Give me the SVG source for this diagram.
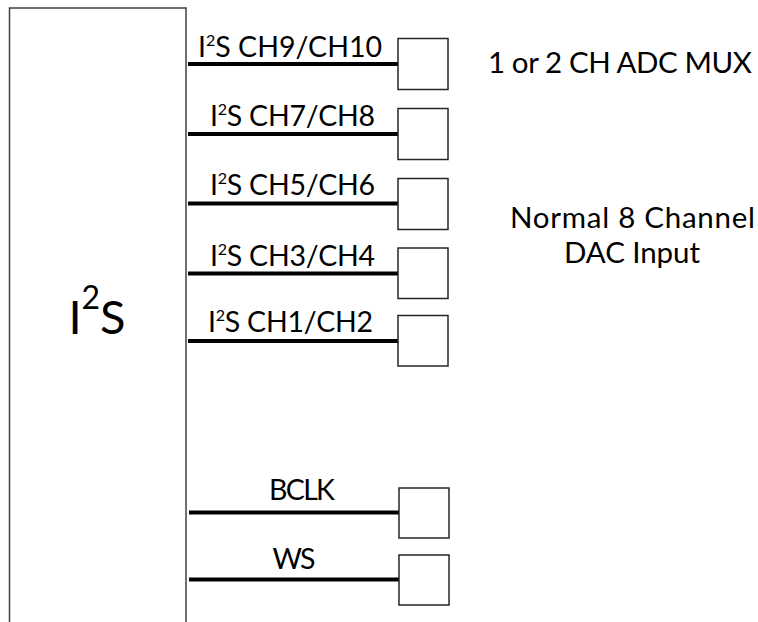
<svg xmlns="http://www.w3.org/2000/svg" width="758" height="622" viewBox="0 0 758 622">
  <style>
    .t { font-family: Lato, "Liberation Sans", sans-serif; fill: #000; }
    .lbl { font-size: 28.5px; text-anchor: middle; }
    .sup { font-size: 16px; }
    .side { font-size: 29.5px; text-anchor: middle; }
    .box { fill: #fff; stroke: #262626; stroke-width: 1.5; }
    .wire { stroke: #000; stroke-width: 4; fill: none; }
  </style>
  <rect width="758" height="622" fill="#fff"/>
  <g id="i2s-block">
    <rect x="9.5" y="8" width="176.5" height="640" fill="#fff" stroke="#404040" stroke-width="1.5"/>
    <text class="t" x="97" y="333.5" font-size="47" text-anchor="middle">I<tspan font-size="32" dy="-25">2</tspan><tspan dy="25">S</tspan></text>
  </g>
  <g id="connectors">
    <line class="wire" x1="188" y1="64" x2="398" y2="64"/>
    <line class="wire" x1="188" y1="134" x2="398" y2="134"/>
    <line class="wire" x1="188" y1="203.5" x2="398" y2="203.5"/>
    <line class="wire" x1="188" y1="273.5" x2="398" y2="273.5"/>
    <line class="wire" x1="188" y1="341" x2="399" y2="341"/>
    <line class="wire" x1="189" y1="512.5" x2="399" y2="512.5"/>
    <line class="wire" x1="189" y1="579.5" x2="399" y2="579.5"/>
  </g>
  <g id="labels">
    <text class="t lbl" x="290" y="56.5" textLength="184" lengthAdjust="spacing">I<tspan class="sup" dy="-11">2</tspan><tspan dy="11">S CH9/CH10</tspan></text>
    <text class="t lbl" x="292.5" y="125.5" textLength="165" lengthAdjust="spacing">I<tspan class="sup" dy="-11">2</tspan><tspan dy="11">S CH7/CH8</tspan></text>
    <text class="t lbl" x="292.5" y="194.5" textLength="165" lengthAdjust="spacing">I<tspan class="sup" dy="-11">2</tspan><tspan dy="11">S CH5/CH6</tspan></text>
    <text class="t lbl" x="292.5" y="266" textLength="165" lengthAdjust="spacing">I<tspan class="sup" dy="-11">2</tspan><tspan dy="11">S CH3/CH4</tspan></text>
    <text class="t lbl" x="290.5" y="332" textLength="165" lengthAdjust="spacing">I<tspan class="sup" dy="-11">2</tspan><tspan dy="11">S CH1/CH2</tspan></text>
    <text class="t lbl" x="302" y="500" textLength="66" lengthAdjust="spacing">BCLK</text>
    <text class="t lbl" x="294" y="569" textLength="43" lengthAdjust="spacing">WS</text>
  </g>
  <g id="ch9-10"><rect class="box" x="398" y="38.5" width="50" height="51"/></g>
  <g id="ch7-8"><rect class="box" x="398" y="108.5" width="50" height="51"/></g>
  <g id="ch5-6"><rect class="box" x="398" y="178.5" width="50" height="51"/></g>
  <g id="ch3-4"><rect class="box" x="398" y="248" width="50" height="50.5"/></g>
  <g id="ch1-2"><rect class="box" x="398" y="315.5" width="50" height="50.5"/></g>
  <g id="bclk"><rect class="box" x="399" y="488" width="50" height="50"/></g>
  <g id="ws"><rect class="box" x="399" y="555" width="50" height="50"/></g>
  <g id="notes">
    <text class="t side" x="620" y="73" textLength="264" lengthAdjust="spacing">1 or 2 CH ADC MUX</text>
    <text class="t side" x="632.5" y="228" textLength="245" lengthAdjust="spacing">Normal 8 Channel</text>
    <text class="t side" x="632" y="263" textLength="136" lengthAdjust="spacing">DAC Input</text>
  </g>
</svg>
